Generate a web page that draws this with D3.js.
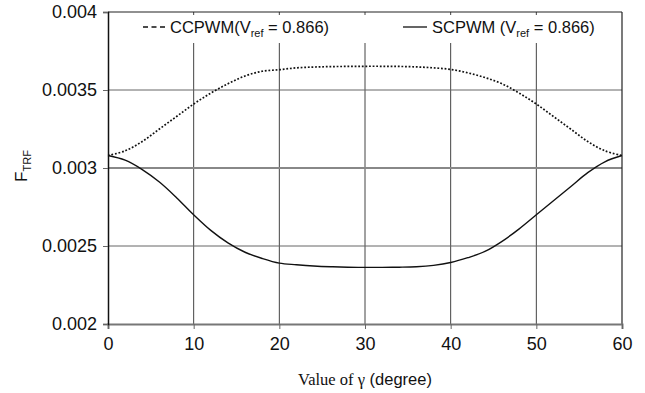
<!DOCTYPE html>
<html>
<head>
<meta charset="utf-8">
<script src="https://cdn.jsdelivr.net/npm/d3@7"></script>
<style>
  body { margin: 0; background: #fff; }
  text { font-family: "Liberation Sans", Arial, sans-serif; fill: #111; }
</style>
</head>
<body>
<div id="chart"></div>
<script>
// data
var gamma = [0, 2, 4, 6, 8, 10, 12, 14, 16, 18, 20, 22, 24, 26, 28, 30,
             32, 34, 36, 38, 40, 42, 44, 46, 48, 50, 52, 54, 56, 58, 60];
var ccpwm = [0.00308, 0.00311, 0.00317, 0.00325, 0.00333, 0.00341, 0.00348, 0.00354, 0.00359, 0.00362, 0.00363,
             0.003642, 0.003647, 0.00365, 0.003651, 0.003652, 0.003652, 0.003651, 0.003648, 0.003642,
             0.003632, 0.00361, 0.00358, 0.00354, 0.00348, 0.00341, 0.00333, 0.00325, 0.00317, 0.00311, 0.00308];
var scpwm = [0.00308, 0.00305, 0.00299, 0.00291, 0.00281, 0.0027, 0.0026, 0.00252, 0.00246, 0.00242, 0.00239,
             0.00238, 0.002372, 0.002367, 0.002364, 0.002363, 0.002363, 0.002364, 0.002367, 0.002376,
             0.002394, 0.002425, 0.002465, 0.00253, 0.00261, 0.0027, 0.00279, 0.00288, 0.00297, 0.00304, 0.00308];
var xTicks = [0, 10, 20, 30, 40, 50, 60];
var yTicks = [0.002, 0.0025, 0.003, 0.0035, 0.004];
var yTickLabels = ["0.002", "0.0025", "0.003", "0.0035", "0.004"];

var svgWidth = 645, svgHeight = 393;
var margin = { top: 12, right: 23, bottom: 69, left: 108 };
var width = svgWidth - margin.left - margin.right;
var height = svgHeight - margin.top - margin.bottom;

var svg = d3.select("#chart").append("svg")
  .attr("width", svgWidth)
  .attr("height", svgHeight);

var chartGroup = svg.append("g")
  .attr("transform", `translate(${margin.left}, ${margin.top})`);

var xScale = d3.scaleLinear().domain([0, 60]).range([0, width]);
var yScale = d3.scaleLinear().domain([0.002, 0.004]).range([height, 0]);

// gridlines
chartGroup.selectAll(".vgrid")
  .data(xTicks.slice(1, -1))
  .enter().append("line")
  .attr("x1", d => xScale(d)).attr("x2", d => xScale(d))
  .attr("y1", 0).attr("y2", height)
  .attr("stroke", "#444").attr("stroke-width", 1);

chartGroup.selectAll(".hgrid")
  .data(yTicks.slice(1, -1))
  .enter().append("line")
  .attr("x1", 0).attr("x2", width)
  .attr("y1", d => yScale(d)).attr("y2", d => yScale(d))
  .attr("stroke", d => d === 0.003 ? "#888" : "#666")
  .attr("stroke-width", d => d === 0.003 ? 2 : 1);

// legend boxes (white, hide grid)
chartGroup.append("rect").attr("x", 28).attr("y", 3).attr("width", 240).attr("height", 28).attr("fill", "#fff");
chartGroup.append("rect").attr("x", 284).attr("y", 3).attr("width", width - 285).attr("height", 28).attr("fill", "#fff");

// frame: top and right
chartGroup.append("line").attr("x1", 0).attr("x2", width).attr("y1", 0).attr("y2", 0)
  .attr("stroke", "#222").attr("stroke-width", 1.2);
chartGroup.append("line").attr("x1", width).attr("x2", width).attr("y1", 0).attr("y2", height)
  .attr("stroke", "#222").attr("stroke-width", 1.2);

// axes
var xAxis = d3.axisBottom(xScale).tickValues(xTicks).tickSize(5).tickPadding(8);
var yAxis = d3.axisLeft(yScale).tickValues(yTicks).tickSize(5).tickPadding(6)
  .tickFormat((d, i) => yTickLabels[i]);

var gx = chartGroup.append("g")
  .attr("transform", `translate(0, ${height})`)
  .call(xAxis);
gx.select(".domain").attr("stroke", "#777").attr("stroke-width", 2);
gx.selectAll(".tick line").attr("stroke", "#666");

var gy = chartGroup.append("g").call(yAxis);
gy.select(".domain").attr("stroke", "#111").attr("stroke-width", 1.5);
gy.selectAll(".tick line").attr("stroke", "#666");

svg.selectAll(".tick text")
  .attr("font-size", "18px")
  .attr("font-family", "Liberation Sans, Arial, sans-serif")
  .attr("fill", "#111");

// curves
var line = d3.line()
  .x((d, i) => xScale(gamma[i]))
  .y(d => yScale(d))
  .curve(d3.curveCatmullRom.alpha(0.5));

chartGroup.append("path")
  .datum(ccpwm)
  .attr("d", line)
  .attr("fill", "none")
  .attr("stroke", "#111")
  .attr("stroke-width", 1.7)
  .attr("stroke-dasharray", "1.8,1.8");

chartGroup.append("path")
  .datum(scpwm)
  .attr("d", line)
  .attr("fill", "none")
  .attr("stroke", "#111")
  .attr("stroke-width", 1.4);

// legend
var legY = 15;
chartGroup.append("line")
  .attr("x1", 35).attr("x2", 60).attr("y1", legY).attr("y2", legY)
  .attr("stroke", "#111").attr("stroke-width", 1.3).attr("stroke-dasharray", "5,3.5");
var t1 = chartGroup.append("text").attr("x", 62).attr("y", legY + 6).attr("font-size", "16.5px");
t1.append("tspan").text("CCPWM(V");
t1.append("tspan").attr("font-size", "11px").attr("dy", 4).text("ref");
t1.append("tspan").attr("dy", -4).text(" = 0.866)");

chartGroup.append("line")
  .attr("x1", 295).attr("x2", 319).attr("y1", legY).attr("y2", legY)
  .attr("stroke", "#111").attr("stroke-width", 1.3);
var t2 = chartGroup.append("text").attr("x", 324).attr("y", legY + 6).attr("font-size", "16.5px");
t2.append("tspan").text("SCPWM (V");
t2.append("tspan").attr("font-size", "11px").attr("dy", 4).text("ref");
t2.append("tspan").attr("dy", -4).text(" = 0.866)");

// axis titles
var yl = svg.append("text")
  .attr("transform", "translate(27, 166) rotate(-90)")
  .attr("text-anchor", "middle")
  .attr("font-size", "17px");
yl.append("tspan").text("F");
yl.append("tspan").attr("font-size", "11px").attr("dy", 4).text("TRF");

var xl = svg.append("text")
  .attr("x", margin.left + width / 2)
  .attr("y", 385)
  .attr("text-anchor", "middle")
  .attr("font-size", "16.5px");
xl.append("tspan").attr("font-family", "Liberation Serif, Times New Roman, serif").text("Value of γ");
xl.append("tspan").text(" (degree)");
</script>
</body>
</html>
